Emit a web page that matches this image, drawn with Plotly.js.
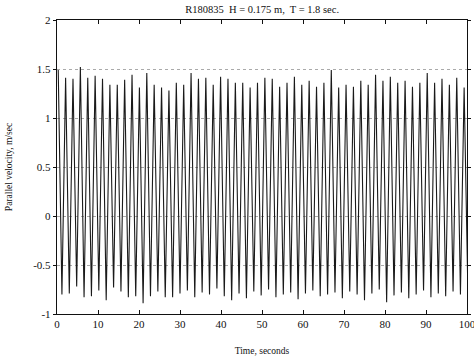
<!DOCTYPE html>
<html>
<head>
<meta charset="utf-8">
<script src="https://cdn.plot.ly/plotly-3.0.1.min.js"></script>
<style>html,body{margin:0;padding:0;background:#fff;}#chart{width:474px;height:361px;}</style>
</head>
<body>
<div id="chart"></div>
<script>
// Crest times (s) and crest velocities (m/s)
const crestTimes = [0.3, 2.1, 3.9, 5.7, 7.5, 9.3, 11.1, 12.9, 14.7, 16.5, 18.3, 20.1, 21.9, 23.7, 25.5, 27.3, 29.1, 30.9, 32.7, 34.5, 36.3, 38.1, 39.9, 41.7, 43.5, 45.3, 47.1, 48.9, 50.7, 52.5, 54.3, 56.1, 57.9, 59.7, 61.5, 63.3, 65.1, 66.9, 68.7, 70.5, 72.3, 74.1, 75.9, 77.7, 79.5, 81.3, 83.1, 84.9, 86.7, 88.5, 90.3, 92.1, 93.9, 95.7, 97.5, 99.3];
const crestValues = [1.49, 1.41, 1.40, 1.52, 1.41, 1.43, 1.40, 1.34, 1.34, 1.39, 1.44, 1.31, 1.46, 1.34, 1.31, 1.28, 1.36, 1.34,
  1.46,
  1.40, 1.41, 1.34, 1.42, 1.40, 1.36, 1.36, 1.31, 1.36, 1.41, 1.40, 1.32, 1.36, 1.42, 1.34, 1.38, 1.32, 1.36,
  1.49,
  1.31, 1.34, 1.32, 1.38, 1.34, 1.44, 1.38, 1.42, 1.36, 1.38, 1.32, 1.36, 1.46, 1.36, 1.40, 1.34, 1.41, 1.31];
// Trough times (s) and trough velocities (m/s)
const troughTimes = [1.2, 3.0, 4.8, 6.6, 8.4, 10.2, 12.0, 13.8, 15.6, 17.4, 19.2, 21.0, 22.8, 24.6, 26.4, 28.2, 30.0, 31.8, 33.6, 35.4, 37.2, 39.0, 40.8, 42.6, 44.4, 46.2, 48.0, 49.8, 51.6, 53.4, 55.2, 57.0, 58.8, 60.6, 62.4, 64.2, 66.0, 67.8, 69.6, 71.4, 73.2, 75.0, 76.8, 78.6, 80.4, 82.2, 84.0, 85.8, 87.6, 89.4, 91.2, 93.0, 94.8, 96.6, 98.4, 100.2];
const troughValues = [-0.80, -0.79, -0.72, -0.83, -0.82, -0.76, -0.86, -0.73, -0.77, -0.83, -0.82, -0.89, -0.82, -0.77, -0.83, -0.83, -0.79, -0.76,
  -0.83, -0.78, -0.80, -0.74, -0.82, -0.86, -0.79, -0.84, -0.77, -0.81, -0.75, -0.83, -0.80, -0.78, -0.85, -0.79, -0.76, -0.82, -0.80,
  -0.78, -0.84, -0.77, -0.80, -0.86, -0.79, -0.75, -0.88, -0.81, -0.78, -0.84, -0.80, -0.76, -0.83, -0.79, -0.82, -0.77, -0.80, -0.74];
const yTicks = [-1, -0.5, 0, 0.5, 1, 1.5, 2];
const yTickLabels = ['-1', '-0.5', '0', '0.5', '1', '1.5', '2'];
const xTicks = [0, 10, 20, 30, 40, 50, 60, 70, 80, 90, 100];

const xs = [], ys = [];
for (let i = 0; i < crestTimes.length; i++) {
  xs.push(crestTimes[i]); ys.push(crestValues[i]);
  xs.push(troughTimes[i]); ys.push(troughValues[i]);
}

const serif = 'Liberation Serif, Times New Roman, serif';
const trace = {
  x: xs, y: ys, type: 'scatter', mode: 'lines',
  line: {color: '#1a1a1a', width: 1.1},
  hoverinfo: 'skip', showlegend: false
};
const layout = {
  width: 474, height: 361,
  margin: {l: 57, r: 7, t: 20, b: 47},
  paper_bgcolor: '#fff', plot_bgcolor: '#fff',
  font: {family: serif, color: '#111', size: 11},
  title: {text: 'R180835  H = 0.175 m,  T = 1.8 sec.', font: {family: serif, size: 10.5, color: '#111'},
          x: 0.553, xanchor: 'center', y: 0.985, yanchor: 'top'},
  xaxis: {
    range: [0, 100], tickvals: xTicks, ticktext: xTicks.map(String),
    ticks: 'inside', ticklen: 4, tickcolor: '#111', mirror: 'ticks',
    showline: true, linecolor: '#111', linewidth: 1.2,
    showgrid: false, zeroline: false, ticklabeloverflow: 'allow',
    tickfont: {family: serif, size: 11},
    title: {text: 'Time, seconds', font: {family: serif, size: 9.5}, standoff: 18}
  },
  yaxis: {
    range: [-1, 2], tickvals: yTicks, ticktext: yTickLabels,
    ticks: 'outside', ticklen: 3, tickcolor: '#111', mirror: 'ticks',
    showline: true, linecolor: '#111', linewidth: 1.2,
    showgrid: true, gridcolor: '#aaa', griddash: 'dot', gridwidth: 1,
    zeroline: false,
    tickfont: {family: serif, size: 11},
    title: {text: 'Parallel velocity, m/sec', font: {family: serif, size: 9.5}, standoff: 18}
  }
};
Plotly.newPlot('chart', [trace], layout, {displayModeBar: false, staticPlot: true});
</script>
</body>
</html>
